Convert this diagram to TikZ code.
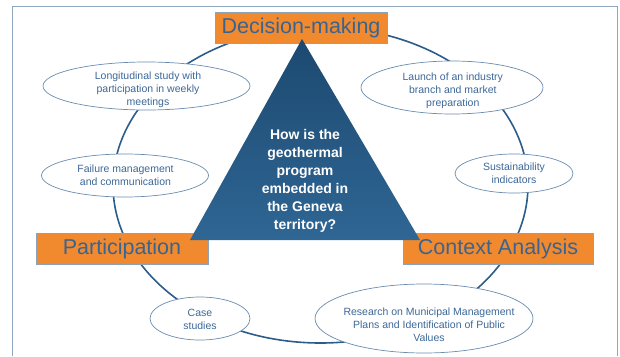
\documentclass[tikz,border=0pt]{standalone}
\usepackage{fontspec}
\setmainfont{Liberation Sans}
\usetikzlibrary{shapes.geometric}
\definecolor{orng}{HTML}{F18A2F}
\definecolor{boxline}{HTML}{8AA2BA}
\definecolor{boxtext}{HTML}{3A6490}
\definecolor{ringc}{HTML}{2C5C8A}
\definecolor{bubline}{HTML}{6A8CB0}
\definecolor{bubtext}{HTML}{3D6898}
\definecolor{tritop}{HTML}{1C4970}
\definecolor{tribot}{HTML}{2F6694}
\definecolor{framec}{HTML}{8EA7BF}
\tikzset{
  bub/.style={ellipse, draw=bubline, line width=0.7pt, fill=white, inner sep=0pt},
  btxt/.style={align=center, text=bubtext, font=\fontsize{10.5}{13}\selectfont, inner sep=0pt},
  pillar/.style={rectangle, fill=orng, draw=boxline, line width=0.7pt, text=boxtext,
    font=\fontsize{21.5}{24}\selectfont, inner sep=0pt},
  qtxt/.style={align=center, text=white, font=\fontsize{14}{18.1}\selectfont\bfseries, inner sep=0pt}
}
\begin{document}
\begin{tikzpicture}[x=1pt,y=-1pt]
\useasboundingbox (0,0) rectangle (620,356);
% frame
\draw[framec, line width=1.5pt] (12.5,356) -- (12.5,6.5) -- (617.5,6.5) -- (617.5,356);
% ring
\draw[ringc, line width=1.6pt] (320.5,185) ellipse [x radius=207.5pt, y radius=158pt];
% bubbles
\node[bub, minimum width=207pt, minimum height=48pt] (e1) at (146.5,86) {};
\node[btxt] (t1) at (148,90) {Longitudinal study with\\participation in weekly\\meetings};
\node[bub, minimum width=167pt, minimum height=43pt] (e2) at (125,175.5) {};
\node[btxt] (t2) at (125.5,175.5) {Failure management\\and communication};
\node[bub, minimum width=182pt, minimum height=53pt] (e3) at (452,87.5) {};
\node[btxt] (t3) at (452.8,90.5) {Launch of an industry\\branch and market\\preparation};
\node[bub, minimum width=118pt, minimum height=39pt] (e4) at (514,173.5) {};
\node[btxt] (t4) at (514,173.5) {Sustainability\\indicators};
\node[bub, minimum width=100pt, minimum height=43pt] (e5) at (200,318.5) {};
\node[btxt] (t5) at (200,319.5) {Case\\studies};
\node[bub, minimum width=218pt, minimum height=69pt] (e6) at (424,318.5) {};
\node[btxt] (t6) at (429,325) {Research on Municipal Management\\Plans and Identification of Public\\Values};
% pillars
\node[pillar, minimum width=172pt, minimum height=30.5pt] (dm) at (301,28) {Decision-making};
\node[pillar, minimum width=172pt, minimum height=31pt] (pa) at (122,248.7) {Participation};
\node[pillar, minimum width=190pt, minimum height=31pt] (ca) at (498,248.5) {Context Analysis};
% triangle
\shade[top color=tritop, bottom color=tribot] (302,39) -- (190,240) -- (420,240) -- cycle;
\node[qtxt] (q) at (305,181) {How is the\\geothermal\\program\\embedded in\\the Geneva\\territory?};
\end{tikzpicture}
\end{document}
